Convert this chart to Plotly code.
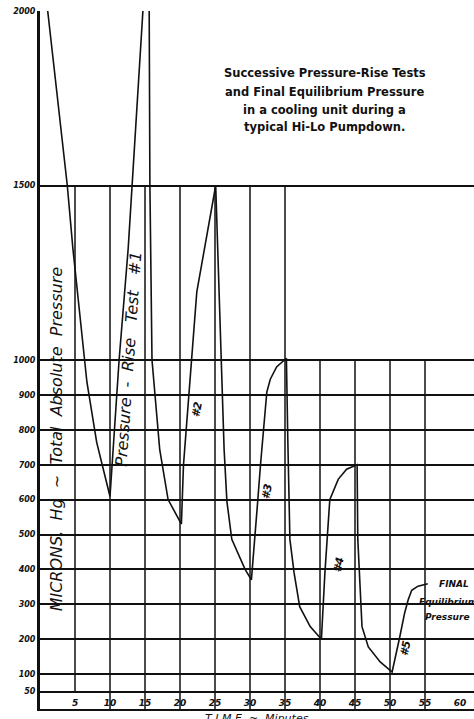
import plotly.graph_objects as go

# ---- data ----
time_min = [1.1, 3.9, 4.7, 5.7, 6.7, 8.1, 10.0,
            11.3, 12.6, 14.7, 15.1, 15.6, 15.7, 16.0, 17.1, 18.3, 20.2,
            20.5, 21.6, 22.4, 25.1,
            25.7, 26.3, 26.7, 27.4, 29.3, 30.2,
            31.1, 31.5, 32.4, 32.9, 33.8, 35.2,
            35.4, 35.7, 36.3, 37.1, 38.6, 40.2,
            40.7, 41.4, 42.6, 43.8, 45.3,
            45.4, 46.0, 46.9, 48.6, 50.3,
            51.4, 52.1, 52.6, 53.1, 54.0, 55.4]
pressure = [2000, 1500, 1319, 1126, 937, 764, 609,
            1000, 1320, 2000, 2150, 2000, 1500, 1000, 744, 600, 530,
            700, 1000, 1195, 1500,
            1089, 744, 595, 486, 400, 370,
            595, 700, 908, 945, 980, 1005,
            773, 486, 390, 293, 236, 200,
            390, 600, 658, 687, 700,
            486, 236, 178, 135, 106,
            207, 276, 313, 340, 352, 359]

y_tickvals = [0, 50, 100, 200, 300, 400, 500, 600, 700, 800, 900, 1000, 1500, 2000]
y_ticktext = ["0", "50", "100", "200", "300", "400", "500", "600", "700", "800", "900", "1000", "1500", "2000"]
x_tickvals = [5, 10, 15, 20, 25, 30, 35, 40, 45, 50, 55, 60]
x_ticktext = ["5", "10", "15", "20", "25", "30", "35", "40", "45", "50", "55", "60"]

vgrid_x = [5, 10, 15, 20, 25, 30, 35, 40, 45, 50, 55]
vgrid_bottom = [50, 0, 0, 0, 0, 0, 0, 0, 0, 0, 0]
vgrid_top = [1500, 1500, 1500, 1500, 1500, 1500, 1500, 1000, 1000, 1000, 1000]

test_labels = ["#2", "#3", "#4", "#5"]
test_label_t = [22.4, 32.4, 42.7, 52.3]
test_label_p = [859, 624, 414, 175]

title_lines = ["Successive Pressure-Rise Tests", "and Final Equilibrium Pressure",
               "in a cooling unit during a", "typical Hi-Lo Pumpdown."]
title_line_p = [1822, 1768, 1716, 1668]

INK = "#111111"

fig = go.Figure()
fig.add_trace(go.Scatter(x=time_min, y=pressure, mode="lines",
                         line=dict(color=INK, width=1.6), cliponaxis=True,
                         showlegend=False, hoverinfo="skip"))

for gx, gb, gt in zip(vgrid_x, vgrid_bottom, vgrid_top):
    fig.add_shape(type="line", xref="x", yref="y", x0=gx, x1=gx, y0=gb, y1=gt,
                  line=dict(color=INK, width=1.5), layer="below")

tick_font = dict(family="DejaVu Sans", size=8, color=INK, style="italic", weight="bold")
hand_font = dict(family="DejaVu Sans", color=INK, style="italic")

fig.update_layout(
    width=474, height=719,
    margin=dict(l=40, r=0, t=11, b=10),
    paper_bgcolor="white", plot_bgcolor="white",
    xaxis=dict(range=[0, 62], tickvals=x_tickvals, ticktext=x_ticktext,
               ticklabelposition="inside", tickfont=dict(tick_font, size=9),
               showgrid=False, zeroline=False, showline=True,
               linecolor=INK, linewidth=2, ticks=""),
    yaxis=dict(range=[0, 2000], tickvals=y_tickvals, ticktext=y_ticktext,
               tickfont=tick_font, showgrid=True, gridcolor=INK, gridwidth=1.5,
               zeroline=False, showline=True, linecolor=INK, linewidth=3, ticks=""),
)

# axis titles drawn inside as in the original
fig.add_annotation(x=2.4, y=775, xref="x", yref="y",
                   text="MICRONS,  Hg  ~  Total  Absolute  Pressure", textangle=-90,
                   showarrow=False, font=dict(hand_font, size=16))
fig.add_annotation(x=0.5, y=0, xref="paper", yref="paper", yanchor="top", yshift=-1,
                   text="T I M E  ~  Minutes", showarrow=False,
                   font=dict(hand_font, size=11))

fig.add_annotation(x=12.7, y=1003, xref="x", yref="y",
                   text="Pressure  -  Rise   Test   #1", textangle=-86,
                   showarrow=False, font=dict(hand_font, size=16))
for lab, t, p in zip(test_labels, test_label_t, test_label_p):
    fig.add_annotation(x=t, y=p, xref="x", yref="y", text=lab, textangle=-78,
                       showarrow=False, font=dict(hand_font, size=11, weight="bold"))

fig.add_annotation(x=56.7, y=359, xref="x", yref="y", xanchor="left", text="FINAL",
                   showarrow=False, font=dict(hand_font, size=9, weight="bold"))
fig.add_annotation(x=53.9, y=307, xref="x", yref="y", xanchor="left", text="Equilibrium",
                   showarrow=False, font=dict(hand_font, size=9, weight="bold"))
fig.add_annotation(x=54.7, y=264, xref="x", yref="y", xanchor="left", text="Pressure",
                   showarrow=False, font=dict(hand_font, size=9, weight="bold"))

for line, p in zip(title_lines, title_line_p):
    fig.add_annotation(x=40.7, y=p, xref="x", yref="y", text=line, showarrow=False,
                       font=dict(family="DejaVu Sans", size=11.5, color=INK, weight="bold"))

fig.write_html("out.html", config={"displayModeBar": False},
               post_script="document.body.style.margin='0';document.body.style.overflow='hidden';")
